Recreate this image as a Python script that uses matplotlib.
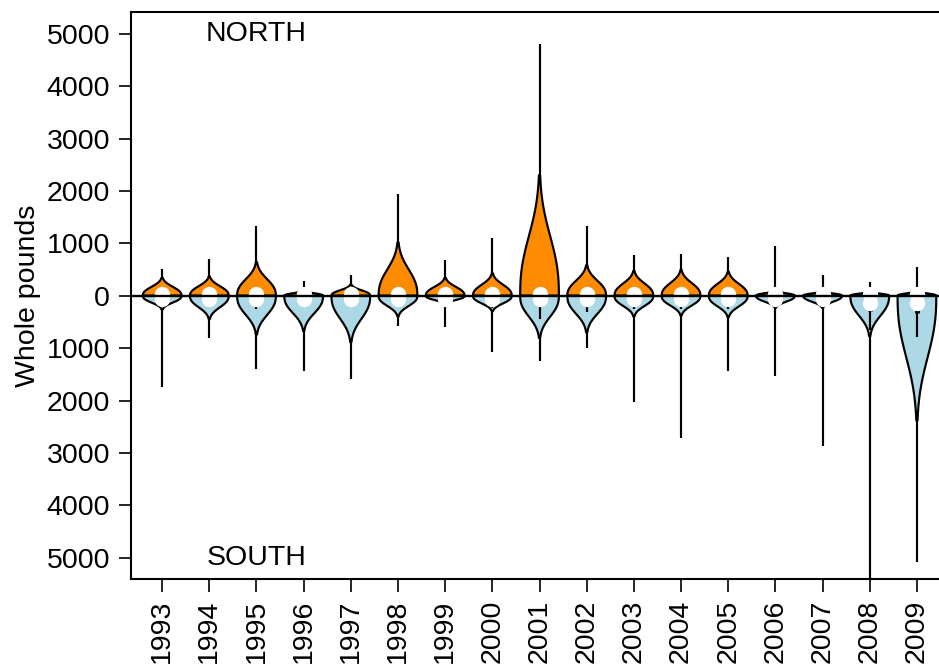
import numpy as np
import matplotlib
matplotlib.use("Agg")
import matplotlib.pyplot as plt

# landings per trip, north half drawn upward, south half mirrored downward
years = [1993, 1994, 1995, 1996, 1997, 1998, 1999, 2000, 2001,
         2002, 2003, 2004, 2005, 2006, 2007, 2008, 2009]

north_max = [510, 700, 1340, 290, 390, 1950, 690, 1100, 4800,
             1340, 780, 790, 740, 950, 390, 260, 540]
north_spread = [210, 225, 390, 60, 130, 620, 210, 260, 1400,
                355, 290, 300, 280, 60, 55, 50, 55]
north_median = [40, 40, 40, 40, 40, 40, 40, 40, 40,
                40, 40, 40, 40, 40, 40, 30, 30]

south_min = [-1750, -800, -1400, -1440, -1590, -570, -600, -1080, -1240,
             -1000, -2030, -2710, -1440, -1530, -2860, -5400, -5090]
south_spread = [160, 270, 450, 410, 540, 240, 100, 180, 490,
                425, 240, 230, 250, 140, 140, 470, 1450]
south_median = [-60, -60, -60, -60, -60, -60, -60, -60, -60,
                -60, -60, -60, -60, -70, -70, -130, -130]
south_q1 = [-20, -20, -20, -20, -20, -20, -20, -20, -20,
            -20, -20, -20, -20, -20, -20, -240, -230]
south_q3 = [-120, -120, -120, -120, -120, -120, -120, -120, -120,
            -120, -120, -120, -120, -120, -120, -300, -330]
south_whisker = [-150, -200, -260, -200, -200, -180, -220, -230, -440,
                 -310, -260, -250, -250, -170, -170, -650, -780]

ORANGE = "#ff8c00"
BLUE = "#add8e6"
HALF = 0.41
LW = 1.55

plt.rcParams["font.family"] = ["Liberation Sans", "DejaVu Sans"]
plt.rcParams["font.size"] = 20.5

fig = plt.figure(figsize=(9.39, 6.71), dpi=100)
ax = fig.add_axes([131 / 939, 92 / 671, 818 / 939, 567 / 671])


def half_violin(x, spread, end, color):
    # one side of a violin: widest at zero, tapering off toward the tail end
    sign = 1 if end > 0 else -1
    top = min(1.65 * spread, abs(end))
    y = np.linspace(0, top, 150)
    w = HALF * np.exp(-(y / spread) ** 2.5)
    w[-1] = 0
    xs = np.concatenate([x - w, (x + w)[::-1]])
    ys = sign * np.concatenate([y, y[::-1]])
    ax.plot([x, x], [0, end], color="black", lw=LW, zorder=1,
            solid_capstyle="butt")
    ax.fill(xs, ys, facecolor=color, edgecolor="black", lw=LW, zorder=2,
            joinstyle="round")


for i, yr in enumerate(years):
    half_violin(yr, north_spread[i], north_max[i], ORANGE)
    half_violin(yr, south_spread[i], south_min[i], BLUE)
    ax.plot([yr, yr], [south_median[i], south_whisker[i]], color="black",
            lw=LW, zorder=3, solid_capstyle="butt")
    ax.plot([yr, yr], [south_q1[i], south_q3[i]], color="black",
            lw=3.4, zorder=3, solid_capstyle="butt")
    ax.plot(yr, north_median[i], "o", ms=10, mfc="white", mec="white",
            zorder=4)
    ax.plot(yr, south_median[i], "o", ms=10, mfc="white", mec="white",
            zorder=4)

ax.axhline(0, color="black", lw=1.7, zorder=5)

ax.text(1995, 5000, "NORTH", ha="center", va="center")
ax.text(1995, -5000, "SOUTH", ha="center", va="center")

ax.set_xlim(1992.34, 2009.68)
ax.set_ylim(-5405, 5415)

yt = np.arange(-5000, 5001, 1000)
ax.set_yticks(yt)
ax.set_yticklabels([str(abs(v)) for v in yt])
ax.set_xticks(years)
ax.set_xticklabels([str(y) for y in years], rotation=90)
ax.set_ylabel("Whole pounds", labelpad=4)

for s in ax.spines.values():
    s.set_linewidth(1.5)
ax.tick_params(axis="both", length=9, width=1.2, pad=6)

fig.savefig("out.png", dpi=100)
